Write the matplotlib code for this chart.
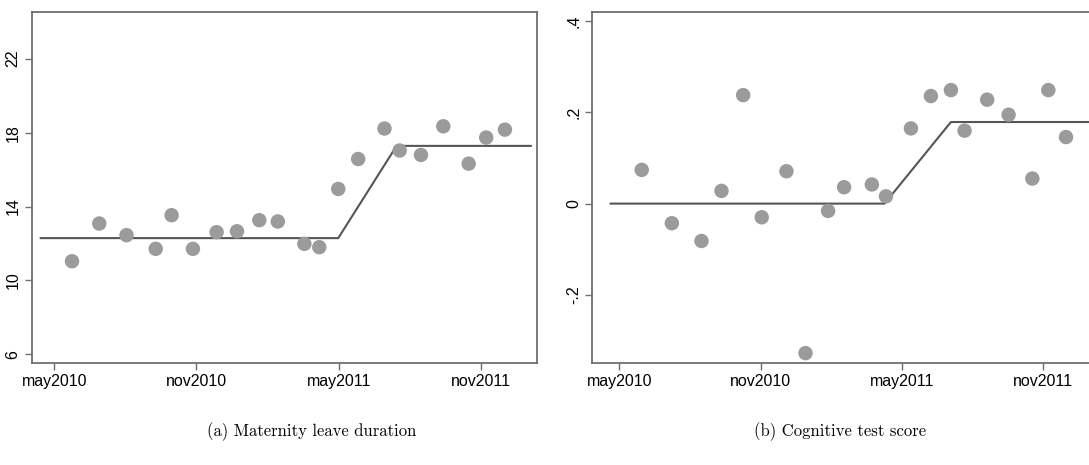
import matplotlib
matplotlib.use("Agg")
import matplotlib.pyplot as plt

# Month offsets counted from May 2010 (0 = may2010, 6 = nov2010, ...)
tick_months = [0, 6, 12, 18]
tick_labels = ["may2010", "nov2010", "may2011", "nov2011"]

# Panel (a): maternity leave duration
leave_x = [0.75, 1.90, 3.05, 4.28, 4.95, 5.85, 6.85, 7.71, 8.65, 9.43, 10.55,
           11.18, 11.98, 12.82, 13.93, 14.57, 15.47, 16.41, 17.48, 18.22, 19.01]
leave_y = [11.04, 13.08, 12.45, 11.71, 13.53, 11.71, 12.61, 12.66, 13.26, 13.19, 11.98,
           11.80, 14.95, 16.57, 18.22, 17.03, 16.79, 18.34, 16.32, 17.73, 18.16]
leave_fit_x = [-0.57, 11.98, 14.44, 20.1]
leave_fit_y = [12.29, 12.29, 17.28, 17.28]
leave_yticks = [6, 10, 14, 18, 22]
leave_ylabels = ["6", "10", "14", "18", "22"]

# Panel (b): cognitive test score
cog_x = [0.95, 2.23, 3.49, 4.34, 5.26, 6.05, 7.10, 7.91, 8.87, 9.55, 10.73,
         11.33, 12.39, 13.24, 14.09, 14.67, 15.63, 16.54, 17.55, 18.23, 18.98]
cog_y = [0.074, -0.043, -0.082, 0.028, 0.238, -0.030, 0.071, -0.328, -0.016, 0.036, 0.042,
         0.016, 0.165, 0.236, 0.249, 0.160, 0.228, 0.195, 0.055, 0.249, 0.146]
cog_fit_x = [-0.37, 11.27, 14.09, 20.1]
cog_fit_y = [0.0, 0.0, 0.179, 0.179]
cog_yticks = [-0.2, 0.0, 0.2, 0.4]
cog_ylabels = ["-.2", "0", ".2", ".4"]

captions = ["(a) Maternity leave duration", "(b) Cognitive test score"]

TICK_FONT = ["Liberation Sans Narrow", "Liberation Sans", "DejaVu Sans"]
DOT = "#9b9b9b"
FIT = "#555555"
FRAME = "#6e6e6e"

fig = plt.figure(figsize=(10.89, 4.65), dpi=100)
W, H = 1089, 465


def px_axes(x0, y0, x1, y1):
    return fig.add_axes([x0 / W, 1 - y1 / H, (x1 - x0) / W, (y1 - y0) / H])


def style(ax, xlim, ylim, yticks, ylabels):
    ax.set_xlim(*xlim)
    ax.set_ylim(*ylim)
    ax.set_xticks(tick_months)
    ax.set_xticklabels(tick_labels, family=TICK_FONT, fontsize=11.5)
    ax.set_yticks(yticks)
    ax.set_yticklabels(ylabels, family=TICK_FONT, fontsize=11.5,
                       rotation=90, va="center")
    for s in ax.spines.values():
        s.set_color(FRAME)
        s.set_linewidth(1.3)
    ax.tick_params(direction="out", length=5, width=1.0, color=FRAME,
                   pad=3, labelcolor="black")


axA = px_axes(31.7, 11.7, 536.7, 362.7)
axA.plot(leave_fit_x, leave_fit_y, color=FIT, lw=1.5, zorder=2)
axA.scatter(leave_x, leave_y, s=108, color=DOT, edgecolors="none", zorder=3)
style(axA, (-0.95, 20.35), (5.55, 24.54), leave_yticks, leave_ylabels)

axB = px_axes(592.3, 11.7, 1097.3, 362.7)
axB.plot(cog_fit_x, cog_fit_y, color=FIT, lw=1.5, zorder=2)
axB.scatter(cog_x, cog_y, s=108, color=DOT, edgecolors="none", zorder=3)
style(axB, (-1.15, 20.31), (-0.349, 0.421), cog_yticks, cog_ylabels)

fig.text(312 / W, 1 - 432 / H, captions[0], family="cmr10", fontsize=12,
         ha="center", va="center")
fig.text(840 / W, 1 - 432 / H, captions[1], family="cmr10", fontsize=12,
         ha="center", va="center")

fig.savefig("out.png", dpi=100, facecolor="white")
